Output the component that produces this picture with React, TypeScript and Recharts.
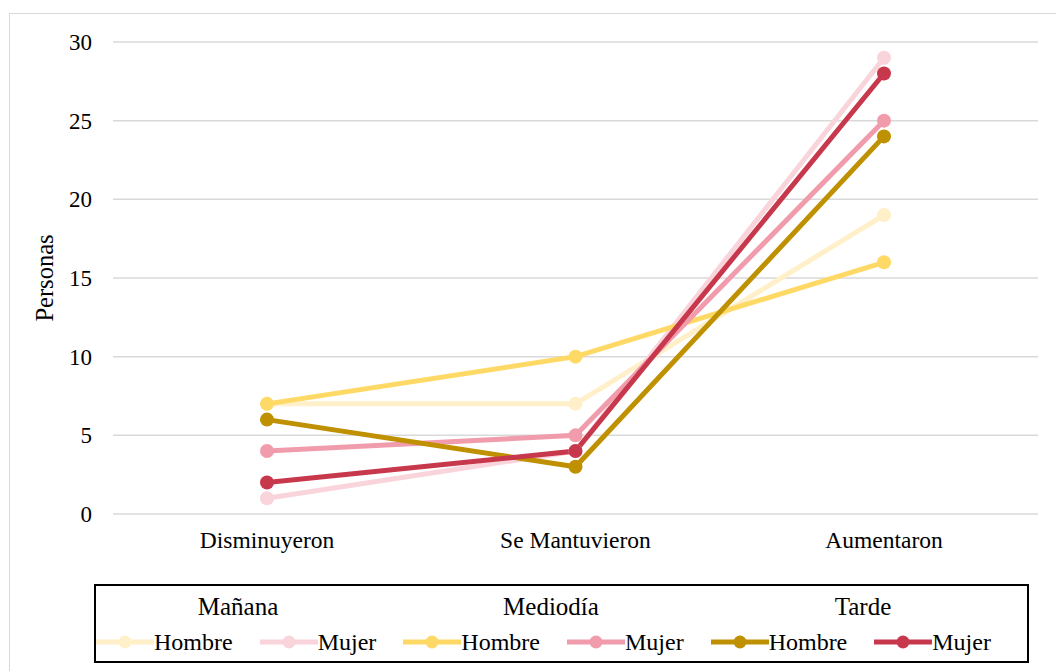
import React from 'react';
import { LineChart, Line, XAxis, YAxis, CartesianGrid } from 'recharts';

const categories = ['Disminuyeron', 'Se Mantuvieron', 'Aumentaron'];
const yTicks = [0, 5, 10, 15, 20, 25, 30];
const groups = ['Mañana', 'Mediodía', 'Tarde'];

const mananaHombre = [7, 7, 19];
const mananaMujer = [1, 4, 29];
const mediodiaHombre = [7, 10, 16];
const mediodiaMujer = [4, 5, 25];
const tardeHombre = [6, 3, 24];
const tardeMujer = [2, 4, 28];

const seriesDefs = [
  { key: 'mh', name: 'Hombre', group: 0, values: mananaHombre, color: '#FFF0C9' },
  { key: 'mm', name: 'Mujer', group: 0, values: mananaMujer, color: '#F9D4DB' },
  { key: 'dh', name: 'Hombre', group: 1, values: mediodiaHombre, color: '#FFD965' },
  { key: 'dm', name: 'Mujer', group: 1, values: mediodiaMujer, color: '#F19CAC' },
  { key: 'th', name: 'Hombre', group: 2, values: tardeHombre, color: '#BF9000' },
  { key: 'tm', name: 'Mujer', group: 2, values: tardeMujer, color: '#C8384D' },
];

const data = categories.map((c, i) => {
  const row: any = { cat: c };
  seriesDefs.forEach((s) => (row[s.key] = s.values[i]));
  return row;
});

const FONT = 'Liberation Serif';
const headerCenters = [238, 551, 863];

const YLabel = (props: any) => {
  const vb = props.viewBox || { x: 0, y: 42, height: 472 };
  const cx = vb.x + 44;
  const cy = vb.y + vb.height / 2;
  return (
    <text
      x={cx}
      y={cy}
      transform={`rotate(-90 ${cx} ${cy})`}
      textAnchor="middle"
      dominantBaseline="central"
      fontFamily={FONT}
      fontSize={24.5}
      fill="#000"
    >
      Personas
    </text>
  );
};

const LegendBox = () => (
  <div
    style={{
      position: 'absolute',
      left: 94,
      top: 584,
      width: 935,
      height: 79,
      boxSizing: 'border-box',
      border: '2px solid #000',
      fontFamily: FONT,
      color: '#000',
      background: '#fff',
    }}
  >
    {groups.map((g, i) => (
      <div
        key={g}
        style={{
          position: 'absolute',
          left: headerCenters[i] - 94 - 2 - 100,
          width: 200,
          top: 7,
          textAlign: 'center',
          lineHeight: '28px',
          fontSize: 25,
        }}
      >
        {g}
      </div>
    ))}
    <div
      style={{
        position: 'absolute',
        left: 0,
        top: 42,
        display: 'flex',
        alignItems: 'center',
        gap: 27,
        lineHeight: '28px',
        fontSize: 24,
      }}
    >
      {seriesDefs.map((s) => (
        <div key={s.key} style={{ display: 'flex', alignItems: 'center' }}>
          <svg width={58} height={20} style={{ display: 'block' }}>
            <line x1={0} y1={10} x2={58} y2={10} stroke={s.color} strokeWidth={5} />
            <circle cx={29} cy={10} r={6.5} fill={s.color} />
          </svg>
          <span>{s.name}</span>
        </div>
      ))}
    </div>
  </div>
);

export default function App() {
  return (
    <div style={{ position: 'absolute', left: 0, top: 0, width: 1056, height: 671, background: '#fff', overflow: 'hidden' }}>
      <div
        style={{
          position: 'absolute',
          left: 9,
          top: 13,
          width: 1100,
          height: 700,
          border: '1px solid #d9d9d9',
        }}
      />
      <div style={{ position: 'absolute', left: 0, top: 0 }}>
        <LineChart width={1056} height={671} data={data} margin={{ top: 42, right: 18, left: 0, bottom: 117 }}>
          <CartesianGrid vertical={false} stroke="#d9d9d9" strokeWidth={1.5} />
          <XAxis
            dataKey="cat"
            height={40}
            axisLine={false}
            tickLine={false}
            tickSize={0}
            tickMargin={17}
            padding={{ left: 154, right: 154 }}
            tick={{ fill: '#000', fontSize: 23.5, fontFamily: FONT }}
          />
          <YAxis
            width={113}
            domain={[0, 30]}
            ticks={yTicks}
            axisLine={false}
            tickLine={false}
            tickSize={0}
            tickMargin={21}
            tick={{ fill: '#000', fontSize: 23, fontFamily: FONT }}
            label={<YLabel />}
          />
          {seriesDefs.map((s) => (
            <Line
              key={s.key}
              dataKey={s.key}
              name={s.name}
              stroke={s.color}
              strokeWidth={5}
              dot={{ r: 7, fill: s.color, stroke: s.color, strokeWidth: 0 }}
              activeDot={false}
              isAnimationActive={false}
            />
          ))}
        </LineChart>
      </div>
      <LegendBox />
    </div>
  );
}
